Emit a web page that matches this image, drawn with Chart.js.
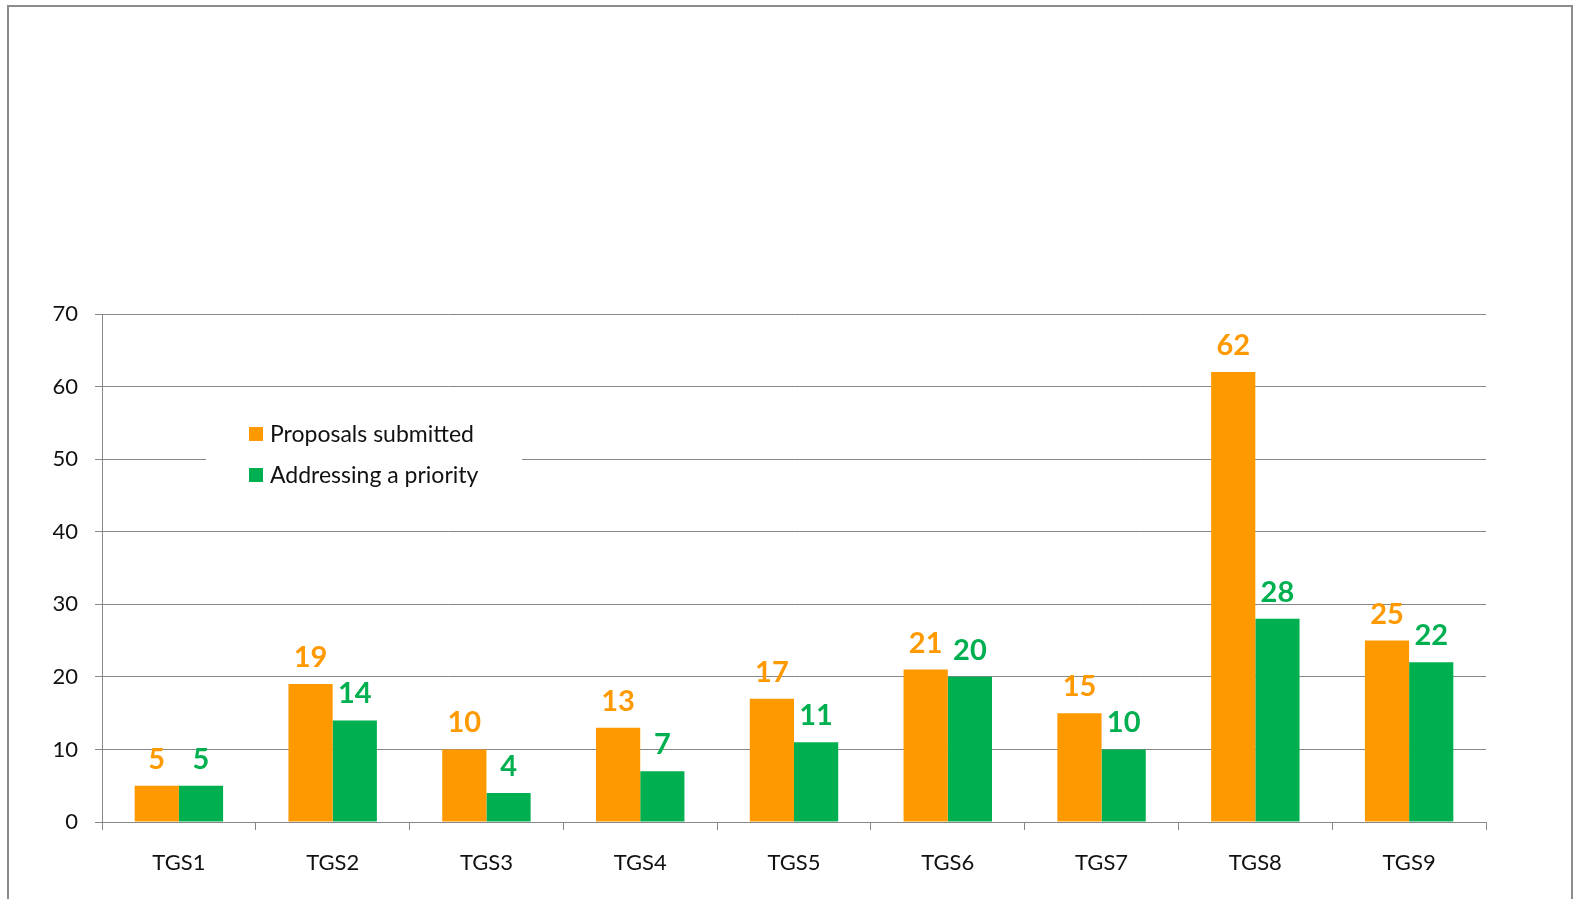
<!DOCTYPE html>
<html>
<head>
<meta charset="utf-8">
<script src="https://cdn.jsdelivr.net/npm/chart.js@4/dist/chart.umd.min.js"></script>
<style>
html,body{margin:0;padding:0;background:#fff;}
#wrap{width:1577px;height:899px;position:relative;}
</style>
</head>
<body>
<div id="wrap"><canvas id="c" width="1577" height="899"></canvas></div>
<script>
const categories = ["TGS1","TGS2","TGS3","TGS4","TGS5","TGS6","TGS7","TGS8","TGS9"];
const proposalsSubmitted = [5,19,10,13,17,21,15,62,25];
const addressingPriority = [5,14,4,7,11,20,10,28,22];
const seriesNames = ["Proposals submitted","Addressing a priority"];
const yTicks = [0,10,20,30,40,50,60,70];

const ORANGE = "#FF9900";
const GREEN = "#00B050";
const GRID = "#878787";
const FONT = "Lato, 'Open Sans', sans-serif";

const framePlugin = {
  id: 'frame',
  afterDraw(chart) {
    const ctx = chart.ctx;
    ctx.save();
    ctx.strokeStyle = "#8c8c8c";
    ctx.lineWidth = 2;
    ctx.beginPath();
    ctx.moveTo(8, 899);
    ctx.lineTo(8, 6);
    ctx.lineTo(1572, 6);
    ctx.lineTo(1572, 899);
    ctx.stroke();
    ctx.restore();
  }
};

const legendPlugin = {
  id: 'boxLegend',
  beforeDatasetsDraw(chart) {
    const ctx = chart.ctx;
    ctx.save();
    ctx.fillStyle = "#fff";
    ctx.fillRect(206, 400, 316, 100);
    const items = chart.data.datasets;
    const ys = [434, 475];
    ctx.font = "23px " + FONT;
    ctx.textBaseline = "middle";
    ctx.textAlign = "left";
    items.forEach((ds, i) => {
      ctx.fillStyle = ds.backgroundColor;
      ctx.fillRect(249, ys[i] - 7, 14, 14);
      ctx.fillStyle = "#111";
      ctx.fillText(ds.label, 270, ys[i] + 1);
    });
    ctx.restore();
  }
};

const valueLabels = {
  id: 'valueLabels',
  afterDatasetsDraw(chart) {
    const ctx = chart.ctx;
    ctx.save();
    ctx.font = "bold 29px " + FONT;
    ctx.textAlign = "center";
    ctx.textBaseline = "alphabetic";
    chart.data.datasets.forEach((ds, di) => {
      const meta = chart.getDatasetMeta(di);
      ctx.fillStyle = ds.backgroundColor;
      meta.data.forEach((bar, i) => {
        ctx.fillText(String(ds.data[i]), bar.x, bar.y - 17);
      });
    });
    ctx.restore();
  }
};

new Chart(document.getElementById('c'), {
  type: 'bar',
  data: {
    labels: categories,
    datasets: [
      { label: seriesNames[0], data: proposalsSubmitted, backgroundColor: ORANGE },
      { label: seriesNames[1], data: addressingPriority, backgroundColor: GREEN }
    ]
  },
  options: {
    responsive: false,
    animation: false,
    devicePixelRatio: 1,
    layout: { padding: { left: 0, right: 91, top: 314, bottom: 0 } },
    plugins: { legend: { display: false }, tooltip: { enabled: false } },
    datasets: { bar: { categoryPercentage: 0.575, barPercentage: 1 } },
    scales: {
      x: {
        grid: { display: true, drawOnChartArea: false, drawTicks: true, tickLength: 8, color: GRID, offset: true },
        border: { color: GRID, width: 1 },
        ticks: { color: "#111", font: { family: FONT, size: 22 }, padding: 20 },
        afterFit(s) { s.height = 77; }
      },
      y: {
        min: 0, max: 70,
        afterBuildTicks(s) { s.ticks = yTicks.map(v => ({ value: v })); },
        grid: { color: GRID, tickLength: 7, lineWidth: 1 },
        border: { color: GRID, width: 1 },
        ticks: { color: "#111", font: { family: FONT, size: 22 }, padding: 17 },
        afterFit(s) { s.width = 102; }
      }
    }
  },
  plugins: [framePlugin, legendPlugin, valueLabels]
});
</script>
</body>
</html>
